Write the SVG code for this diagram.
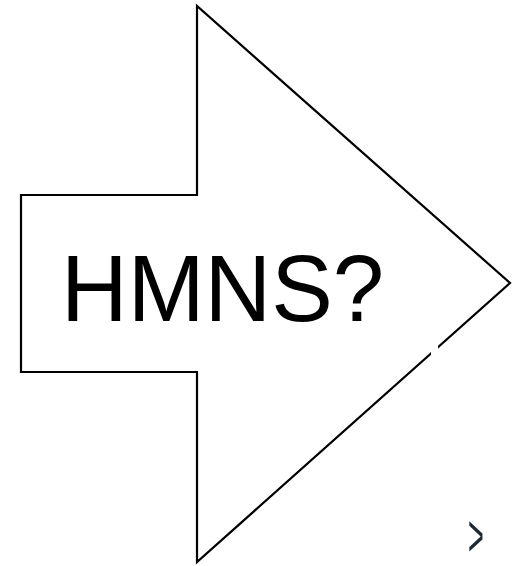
<svg xmlns="http://www.w3.org/2000/svg" width="512" height="566" viewBox="0 0 512 566">
  <style>
    .outline { fill: #ffffff; stroke: #000000; stroke-width: 2.2; stroke-linejoin: miter; }
    .label { font-family: "Liberation Sans", Arial, sans-serif; font-size: 95px; fill: #000000; }
    .mark { font-family: "Liberation Sans", Arial, sans-serif; font-size: 60px; fill: #1c2a38; }
  </style>
  <defs>
    <filter id="soft" x="-50%" y="-50%" width="200%" height="200%">
      <feGaussianBlur stdDeviation="0.7"/>
    </filter>
  </defs>
  <rect width="512" height="566" fill="#ffffff"/>
  <g id="arrow">
    <path class="outline" d="M21,195 L197,195 L197,6 L510,283 L197,562 L197,372 L21,372 Z"/>
    <rect x="431" y="342" width="7" height="14" fill="#ffffff"/>
    <text class="label" x="61" y="321" textLength="323" lengthAdjust="spacingAndGlyphs">HMNS?</text>
  </g>
  <g id="corner-mark" filter="url(#soft)">
    <text class="mark" transform="translate(468,556) scale(0.45,1)" x="0" y="0">&gt;</text>
  </g>
</svg>
